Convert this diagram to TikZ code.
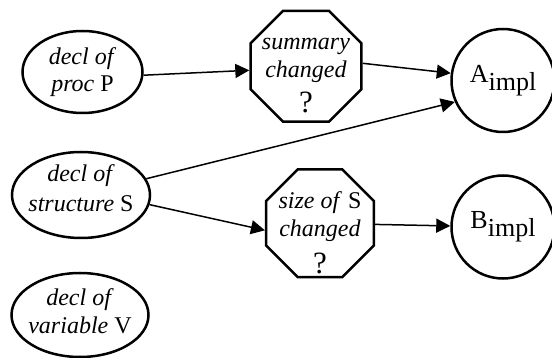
\documentclass[tikz,border=0pt]{standalone}
\usepackage{fontspec}
\setmainfont{Liberation Serif}
\usetikzlibrary{shapes.geometric,arrows.meta}
\newcommand{\implof}[1]{#1\raisebox{-7.5pt}{impl}}
\newcommand{\bigq}{{\fontsize{31}{31}\selectfont ?}}

\tikzset{
  decl/.style={draw, ellipse, line width=2.5pt, inner sep=0pt, minimum width=120pt, minimum height=82pt},
  test/.style={draw, regular polygon, regular polygon sides=8, line width=2.5pt, inner sep=0pt, minimum size=120pt},
  implnode/.style={draw, circle, line width=2.5pt, inner sep=0pt, minimum size=103pt, font=\fontsize{26}{30}\selectfont},
  txt/.style={align=center, inner sep=0pt},
  dep/.style={line width=1.5pt, -{Triangle[length=14pt,width=14pt]}}
}

\begin{document}
\begin{tikzpicture}[x=1pt, y=-1pt, font=\fontsize{24}{28.5}\selectfont]
    \useasboundingbox (0,0) rectangle (552,358);

    % declarations
    \node[decl, label={[txt]center:{\textit{decl of}\\[-1pt]\textit{proc} P}}] (P) at (82.5,72) {};
    \node[decl, minimum width=138pt, minimum height=86pt,
          label={[txt, yshift=7pt]center:{\textit{decl of}\\[1.5pt]\textit{structure} S}}] (S) at (81,195) {};
    \node[decl, minimum width=137pt, minimum height=84pt,
          label={[txt, yshift=4pt]center:{\textit{decl of}\\\textit{variable} V}}] (V) at (80,315) {};

    % tests
    \node[test, label={[txt, yshift=-9.5pt]center:{\textit{summary}\\\textit{changed}\\[6.5pt]\bigq}}] (sum) at (306,66.3) {};
    \node[test, minimum size=116.5pt,
          label={[txt, yshift=-9pt]center:{\textit{size of} S\\\textit{changed}\\[8pt]\bigq}}] (size) at (320,223.3) {};

    % implementations
    \node[implnode] (A) at (503,80.5) {\implof{A}};
    \node[implnode] (B) at (503,227) {\implof{B}};

    \draw[dep] (P.-3) -- ([yshift=-4pt]sum.west);
    \draw[dep] ([yshift=3pt]sum.east) -- (A.172);
    \draw[dep] (S) -- (A.204);
    \draw[dep] (S.-8) -- ([yshift=-7pt]size.west);
    \draw[dep] (size) -- (B);
\end{tikzpicture}
\end{document}
